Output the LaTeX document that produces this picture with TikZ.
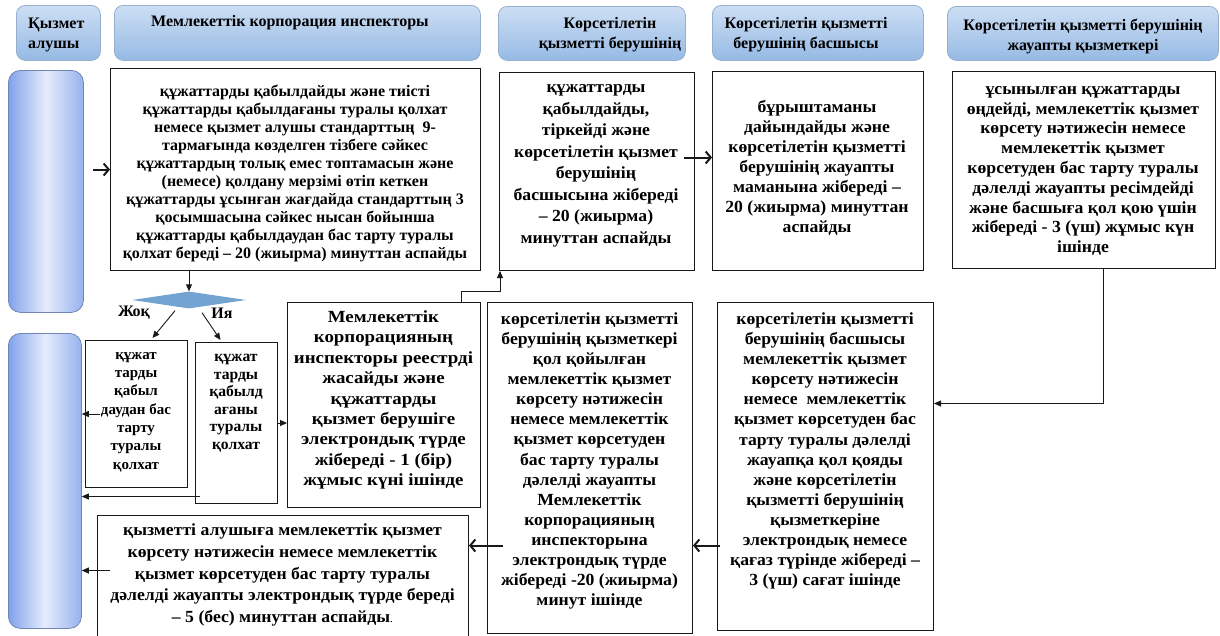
\documentclass[tikz,border=0pt]{standalone}
\usepackage{fontspec}
\setmainfont{Liberation Serif}
\newfontfamily\wideA[FakeStretch=1.04]{Liberation Serif}
\newfontfamily\wideB[FakeStretch=1.11]{Liberation Serif}
\usetikzlibrary{arrows.meta,shapes.geometric,calc}

\definecolor{hdtop}{RGB}{205,222,244}
\definecolor{hdbot}{RGB}{150,186,228}
\definecolor{hdborder}{RGB}{150,175,205}
\definecolor{barL}{RGB}{128,162,235}
\definecolor{barM}{RGB}{230,236,252}
\definecolor{barR}{RGB}{150,178,238}
\definecolor{diafill}{RGB}{115,163,208}
\definecolor{linec}{RGB}{25,25,25}

\begin{document}
\begin{tikzpicture}[x=1pt,y=-1pt,
  hdr/.style={draw=hdborder, rounded corners=9pt, top color=hdtop, bottom color=hdbot, line width=0.8pt, inner sep=0pt},
  lane/.style={draw=barR!75!black, rounded corners=12pt, left color=barL, right color=barR, middle color=barM, line width=0.8pt, inner sep=0pt},
  box/.style={draw=linec, line width=1pt, fill=white, inner sep=0pt},
  txt/.style={align=center, inner sep=0pt, font=\bfseries\fontsize{16}{20}\selectfont},
  txtA/.style={align=center, inner sep=0pt, font=\wideA\bfseries\fontsize{17}{20}\selectfont},
  txtB/.style={align=center, inner sep=0pt, font=\wideB\bfseries\fontsize{17}{20}\selectfont},
  tharrow/.style={draw=linec, line width=0.9pt, -{Triangle[length=7pt,width=6pt]}},
  bigarrow/.style={draw=linec, line width=2pt, -{Straight Barb[length=5pt,width=12pt]}},
]
\useasboundingbox[fill=white] (0,0) rectangle (1220,635);

% headers
\node[hdr, minimum width=84, minimum height=55, anchor=north west] (h1) at (16,5) {};
\node[txt, align=left, anchor=west] (h1t) at (28,35) {Қызмет\\алушы};
\node[hdr, minimum width=366, minimum height=55, anchor=north west] (h2) at (114,5) {};
\node[txt] (h2t) at (290,23) {Мемлекеттік корпорация инспекторы};
\node[hdr, minimum width=187, minimum height=54, anchor=north west] (h3) at (498,6) {};
\node[txt] (h3t) at (610,35) {Көрсетілетін\\қызметті берушінің};
\node[hdr, minimum width=211, minimum height=55, anchor=north west] (h4) at (712,5) {};
\node[txt] (h4t) at (806,35) {Көрсетілетін қызметті\\берушінің басшысы};
\node[hdr, minimum width=271, minimum height=54, anchor=north west] (h5) at (947,6) {};
\node[txt] (h5t) at (1083,36) {Көрсетілетін қызметті берушінің\\жауапты қызметкері};

% lanes
\node[lane, minimum width=75, minimum height=242, anchor=north west] (bar1) at (8,70) {};
\node[lane, minimum width=73, minimum height=295, anchor=north west] (bar2) at (8,333) {};

% boxes
\node[box, minimum width=370, minimum height=202, anchor=north west] (b1) at (110,68) {};
\node[txt, font=\bfseries\fontsize{16}{18}\selectfont] (b1t) at (295,173) {құжаттарды қабылдайды және тиісті\\құжаттарды қабылдағаны туралы қолхат\\немесе қызмет алушы стандарттың \ 9-\\тармағында көзделген тізбеге сәйкес\\құжаттардың толық емес топтамасын және\\(немесе) қолдану мерзімі өтіп кеткен\\құжаттарды ұсынған жағдайда стандарттың 3\\қосымшасына сәйкес нысан бойынша\\құжаттарды қабылдаудан бас тарту туралы\\қолхат береді – 20 (жиырма) минуттан аспайды};

\node[box, minimum width=195, minimum height=198, anchor=north west] (b2) at (499,72) {};
\node[txtA, font=\wideA\bfseries\fontsize{17}{21.5}\selectfont] (b2t) at (596,166) {құжаттарды\\қабылдайды,\\тіркейді және\\көрсетілетін қызмет\\берушінің\\басшысына жібереді\\– 20 (жиырма)\\минуттан аспайды};

\node[box, minimum width=211, minimum height=199, anchor=north west] (b3) at (712,71) {};
\node[txtA] (b3t) at (817,168) {бұрыштаманы\\дайындайды және\\көрсетілетін қызметті\\берушінің жауапты\\маманына жібереді –\\20 (жиырма) минуттан\\аспайды};

\node[box, minimum width=263, minimum height=197, anchor=north west] (b4) at (952,71) {};
\node[txtA, font=\wideA\bfseries\fontsize{17}{19.8}\selectfont] (b4t) at (1083,171) {ұсынылған құжаттарды\\өңдейді, мемлекеттік қызмет\\көрсету нәтижесін немесе\\мемлекеттік қызмет\\көрсетуден бас тарту туралы\\дәлелді жауапты ресімдейді\\және басшыға қол қою үшін\\жібереді - 3 (үш) жұмыс күн\\ішінде};

\node[diamond, fill=diafill, minimum width=114, minimum height=17, inner sep=0pt] (dia) at (189,300) {};
\node[txt] (no) at (134,313) {Жоқ};
\node[txt] (yes) at (222,313) {Ия};

\node[box, minimum width=102, minimum height=147, anchor=north west] (bno) at (85,340) {};
\node[txt, font=\bfseries\fontsize{15}{18.3}\selectfont] (bnot) at (136,412) {құжат\\тарды\\қабыл\\даудан бас\\тарту\\туралы\\қолхат};

\node[box, minimum width=82, minimum height=161, anchor=north west] (byes) at (195,342) {};
\node[txt, font=\bfseries\fontsize{15.6}{17.5}\selectfont] (byest) at (236,403) {құжат\\тарды\\қабылд\\ағаны\\туралы\\қолхат};

\node[box, minimum width=193, minimum height=205, anchor=north west] (b5) at (287,302) {};
\node[txtB, font=\wideB\bfseries\fontsize{17}{20.4}\selectfont] (b5t) at (383.5,400) {Мемлекеттік\\корпорацияның\\инспекторы реестрді\\жасайды және\\құжаттарды\\қызмет берушіге\\электрондық түрде\\жібереді - 1 (бір)\\жұмыс күні ішінде};

\node[box, minimum width=205, minimum height=331, anchor=north west] (b7) at (487,302) {};
\node[txtA, font=\wideA\bfseries\fontsize{17}{20.1}\selectfont] (b7t) at (589.5,461) {көрсетілетін қызметті\\берушінің қызметкері\\қол қойылған\\мемлекеттік қызмет\\көрсету нәтижесін\\немесе мемлекеттік\\қызмет көрсетуден\\бас тарту туралы\\дәлелді жауапты\\Мемлекеттік\\корпорацияның\\инспекторына\\электрондық түрде\\жібереді -20 (жиырма)\\минут ішінде};

\node[box, minimum width=216, minimum height=328, anchor=north west] (b8) at (717,302) {};
\node[txtA, font=\wideA\bfseries\fontsize{17}{20.1}\selectfont] (b8t) at (825,451) {көрсетілетін қызметті\\берушінің басшысы\\мемлекеттік қызмет\\көрсету нәтижесін\\немесе \ мемлекеттік\\қызмет көрсетуден бас\\тарту туралы дәлелді\\жауапқа қол қояды\\және көрсетілетін\\қызметті берушінің\\қызметкеріне\\электрондық немесе\\қағаз түрінде жібереді –\\3 (үш) сағат ішінде};

\node[box, minimum width=371, minimum height=135, anchor=north west] (b9) at (97,515) {};
\node[txtA, font=\wideA\bfseries\fontsize{17}{21.7}\selectfont] (b9t) at (282.5,575) {қызметті алушыға мемлекеттік қызмет\\көрсету нәтижесін немесе мемлекеттік\\қызмет көрсетуден бас тарту туралы\\дәлелді жауапты электрондық түрде береді\\– 5 (бес) минуттан аспайды{\mdseries\fontsize{11}{12}\selectfont.}};

% connectors
\draw[bigarrow] ([xshift=9pt]bar1.east |- b1.west) -- (b1.west);
\draw[tharrow] (dia.north |- b1.south) -- (dia.north);
\draw[tharrow] ($(dia.south)+(-14,2)$) -- ($(bno.north)+(16,-2)$);
\draw[tharrow] ($(dia.south)+(13,4)$) -- ($(byes.north)+(-16,-2)$);
\draw[tharrow] ([xshift=15pt]bno.west) -- (bar2.east |- bno.west);
\draw[tharrow] ([xshift=5pt,yshift=-73.5pt]byes.west) -- ([yshift=-73.5pt]byes.west -| bar2.east);
\draw[tharrow] (byes.east) -- (byes.east -| b5.west);
\draw[tharrow] ([xshift=-20pt]b5.north east) -- ++(0,-11) -| ([xshift=1pt]b2.south west);
\draw[bigarrow] ([xshift=-11pt,yshift=14pt]b2.east) -- ([yshift=14pt]b2.east -| b3.west);
\draw[tharrow] ([xshift=19.5pt]b4.south) |- ([yshift=63pt]b8.east);
\draw[bigarrow] ([xshift=3pt,yshift=-79pt]b8.west) -- ([yshift=-79pt]b8.west -| b7.east);
\draw[bigarrow] ([xshift=16pt,yshift=-77.5pt]b7.west) -- ([yshift=-77.5pt]b7.west -| b9.east);
\draw[tharrow] ([xshift=13pt,yshift=12.5pt]b9.west) -- ([yshift=12.5pt]b9.west -| bar2.east);
\end{tikzpicture}
\end{document}
